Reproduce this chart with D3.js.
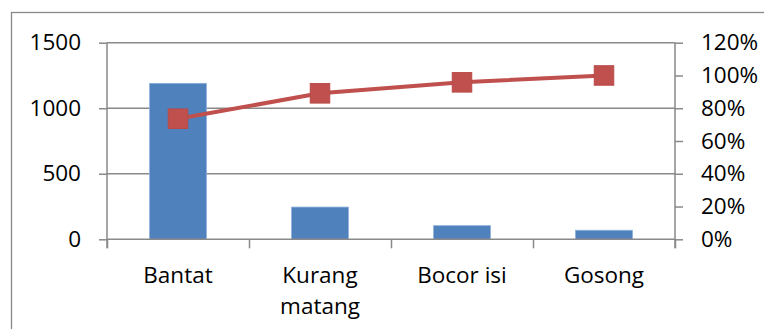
<!DOCTYPE html>
<html>
<head>
<meta charset="utf-8">
<script src="https://cdn.jsdelivr.net/npm/d3@7"></script>
<style>
  html, body { margin: 0; padding: 0; background: #fff; }
  svg { display: block; }
  text { font-family: "Open Sans", sans-serif; font-size: 22.5px; fill: #000; }
</style>
</head>
<body>
<svg id="chart" width="764" height="329"></svg>
<script>
// Defect categories and their counts
const categories = ["Bantat", "Kurang matang", "Bocor isi", "Gosong"];
const counts = [1190, 246, 104, 69];
// Cumulative share of defects (%)
const cumulativePct = [73.6, 89.1, 95.8, 100];
// Axis tick values
const countTicks = [0, 500, 1000, 1500];
const pctTicks = [0, 20, 40, 60, 80, 100, 120];

const svg = d3.select("#chart");
const axisColor = "#898989";

// Outer chart frame
svg.append("rect")
  .attr("x", 11.5).attr("y", 12.5)
  .attr("width", 900).attr("height", 400)
  .attr("fill", "none").attr("stroke", axisColor).attr("stroke-width", 1.3);

const plotLeft = 107, plotRight = 675, plotTop = 42.7, plotBottom = 239.3;

const x = d3.scaleBand().domain(categories).range([plotLeft, plotRight])
  .paddingInner(0.6).paddingOuter(0.3);
const xEdges = d3.scaleLinear().domain([0, categories.length]).range([plotLeft, plotRight]);
const y = d3.scaleLinear().domain([0, 1500]).range([plotBottom, plotTop]);
const y2 = d3.scaleLinear().domain([0, 120]).range([plotBottom, plotTop]);

// Horizontal gridlines at the count ticks
svg.append("g")
  .selectAll("line").data(countTicks.filter(d => d > 0)).join("line")
  .attr("x1", plotLeft).attr("x2", plotRight)
  .attr("y1", d => y(d)).attr("y2", d => y(d))
  .attr("stroke", axisColor).attr("stroke-width", 1.5);

// Bars
svg.append("g")
  .selectAll("rect").data(categories).join("rect")
  .attr("x", d => x(d))
  .attr("y", (d, i) => y(counts[i]))
  .attr("width", x.bandwidth())
  .attr("height", (d, i) => y(0) - y(counts[i]))
  .attr("fill", "#4F81BD")
  .attr("stroke", "#8db0dc").attr("stroke-width", 0.8);

// Left count axis
const gLeft = svg.append("g").attr("transform", `translate(${plotLeft},0)`)
  .call(d3.axisLeft(y).tickValues(countTicks).tickSize(8).tickPadding(18).tickFormat(d3.format("d")));

// Right percentage axis
const gRight = svg.append("g").attr("transform", `translate(${plotRight},0)`)
  .call(d3.axisRight(y2).tickValues(pctTicks).tickSize(8).tickPadding(18).tickFormat(d => d + "%"));

// Category axis with ticks on band boundaries
const gBottom = svg.append("g").attr("transform", `translate(0,${plotBottom})`)
  .call(d3.axisBottom(xEdges).tickValues(d3.range(categories.length + 1)).tickSize(9).tickFormat(""));

[gLeft, gRight, gBottom].forEach(g => {
  g.select(".domain").attr("stroke", axisColor).attr("stroke-width", 1.5);
  g.selectAll(".tick line").attr("stroke", axisColor).attr("stroke-width", 1.5);
  g.selectAll(".tick text").attr("fill", "#000")
    .style("font-family", "'Open Sans', sans-serif").style("font-size", "22.5px");
});
gLeft.select(".domain").attr("d", `M0,${plotTop}V${plotBottom + 9}`);
gRight.select(".domain").attr("d", `M0,${plotTop}V${plotBottom + 9}`);
gBottom.select(".domain").attr("d", `M${plotLeft},0H${plotRight}`);

// Category labels, wrapped to the band width
const labels = svg.append("g");
categories.forEach(c => {
  const cx = x(c) + x.bandwidth() / 2;
  const t = labels.append("text").attr("x", cx).attr("y", plotBottom + 43.4)
    .attr("text-anchor", "middle");
  const words = c.split(" ");
  let line = [];
  let tspan = t.append("tspan").attr("x", cx).attr("dy", 0);
  words.forEach(w => {
    line.push(w);
    tspan.text(line.join(" "));
    if (tspan.node().getComputedTextLength() > x.step() - 4 && line.length > 1) {
      line.pop();
      tspan.text(line.join(" "));
      line = [w];
      tspan = t.append("tspan").attr("x", cx).attr("dy", 31.6).text(w);
    }
  });
});

// Cumulative percentage line and markers
const pts = categories.map((c, i) => [x(c) + x.bandwidth() / 2, y2(cumulativePct[i])]);
svg.append("path")
  .attr("d", d3.line()(pts))
  .attr("fill", "none").attr("stroke", "#C0504D").attr("stroke-width", 4);
const m = 19.5;
svg.append("g")
  .selectAll("rect").data(pts).join("rect")
  .attr("x", d => d[0] - m / 2).attr("y", d => d[1] - m / 2)
  .attr("width", m).attr("height", m)
  .attr("fill", "#C0504D").attr("stroke", "#b94a47").attr("stroke-width", 1);
</script>
</body>
</html>
